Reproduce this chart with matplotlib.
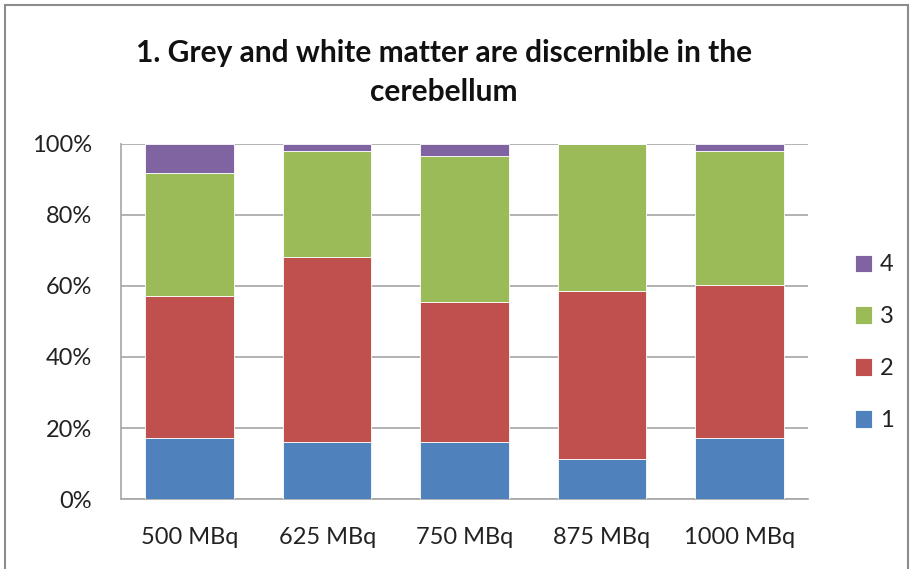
import matplotlib.pyplot as plt
import numpy as np
from matplotlib.patches import Rectangle

# cumulative share (%) at the top of each score band, per activity
activities = ['500 MBq', '625 MBq', '750 MBq', '875 MBq', '1000 MBq']
score_labels = ['1', '2', '3', '4']
top_1 = [17.3, 16.1, 16.1, 11.3, 17.3]
top_2 = [57.2, 68.3, 55.5, 58.7, 60.3]
top_3 = [91.7, 98.1, 96.5, 100.0, 98.1]
top_4 = [100.0, 100.0, 100.0, 100.0, 100.0]

colors = ['#4F81BD', '#C0504D', '#9BBB59', '#8064A2']
FONT = 'Lato'

tops = np.array([top_1, top_2, top_3, top_4])
shares = np.diff(np.vstack([np.zeros(len(activities)), tops]), axis=0)

fig = plt.figure(figsize=(9.1, 5.69), dpi=100)
ax = fig.add_axes([0.133, 0.123, 0.755, 0.624])

x = np.arange(len(activities))
bottom = np.zeros(len(activities))
handles = []
for lbl, share, col in zip(score_labels, shares, colors):
    bars = ax.bar(x, share, 0.645, bottom=bottom, color=col, label=lbl,
                  edgecolor='white', linewidth=0.6, zorder=3)
    handles.append(bars)
    bottom += share

ax.set_xlim(-0.5, len(activities) - 0.5)
ax.set_ylim(0, 100)
ax.set_yticks(np.arange(0, 101, 20))
ax.set_yticklabels([f'{v}%' for v in range(0, 101, 20)], fontsize=17, family=FONT, color='#222222')
ax.set_xticks(x)
ax.set_xticklabels(activities, fontsize=17, family=FONT, color='#222222')
ax.tick_params(axis='both', length=0)
ax.tick_params(axis='y', pad=21)
ax.tick_params(axis='x', pad=20)

ax.yaxis.grid(True, color='#A6A6A6', linewidth=1.2, zorder=0)
for side in ['top', 'right']:
    ax.spines[side].set_visible(False)
for side in ['left', 'bottom']:
    ax.spines[side].set_color('#A6A6A6')
    ax.spines[side].set_linewidth(1.2)

fig.text(0.488, 0.873, '1. Grey and white matter are discernible in the\ncerebellum',
         ha='center', va='center', fontsize=21.5, fontweight='bold', family=FONT,
         linespacing=1.47, color='#111111')

leg = ax.legend(handles[::-1], score_labels[::-1], loc='center left',
                bbox_to_anchor=(1.037, 0.44), frameon=False,
                prop={'family': FONT, 'size': 17}, labelspacing=1.31,
                handlelength=0.75, handleheight=0.75, handletextpad=0.3)
for t in leg.get_texts():
    t.set_color('#222222')

# chart border
fig.add_artist(Rectangle((5 / 910, -0.05), 903 / 910, 1.05 - 5 / 569,
                         transform=fig.transFigure, fill=False,
                         edgecolor='#8C8C8C', linewidth=1.5))

fig.savefig('out.png', dpi=100)
